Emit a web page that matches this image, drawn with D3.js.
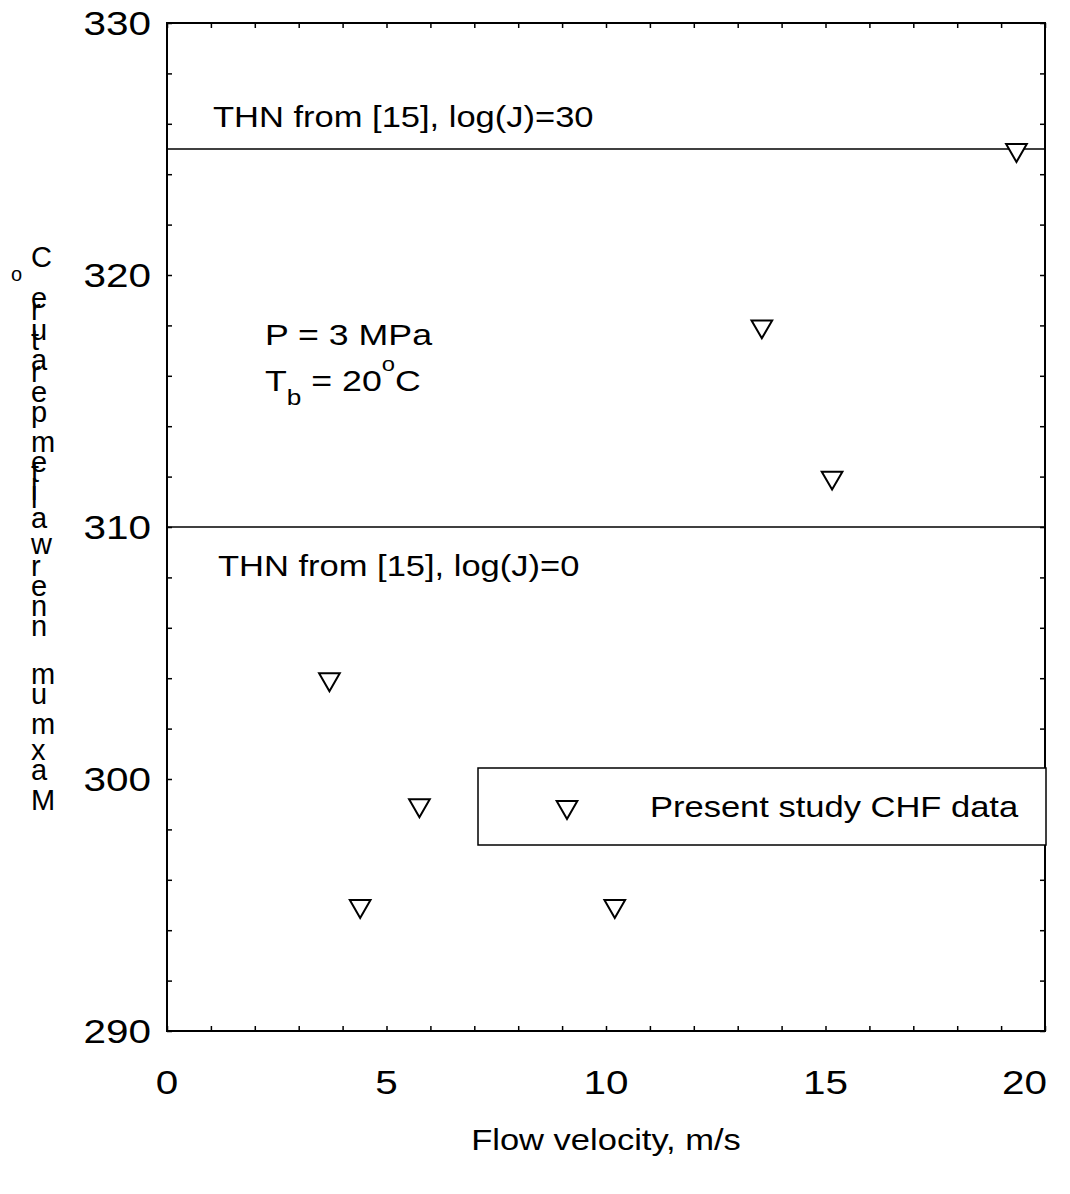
<!DOCTYPE html>
<html>
<head>
<meta charset="utf-8">
<script src="https://cdnjs.cloudflare.com/ajax/libs/d3/7.8.5/d3.min.js"></script>
<style>
  body { margin: 0; background: #fff; }
  svg { display: block; }
  text { font-family: "Liberation Sans", Arial, sans-serif; fill: #000; }
</style>
</head>
<body>
<svg width="1070" height="1194"></svg>
<script>
// data
var velocity = [3.7, 4.4, 5.75, 10.2, 13.55, 15.15, 19.35];
var tmax = [304, 295, 299, 295, 318, 312, 325];

var thnLevels = [325, 310];
var thnLabels = ["THN from [15], log(J)=30", "THN from [15], log(J)=0"];

var xTicks = [0, 5, 10, 15, 20];
var yTicks = [290, 300, 310, 320, 330];
var xMinor = d3.range(0, 21, 1);
var yMinor = d3.range(290, 331, 2);

var svg = d3.select("svg");

var pLeft = 167, pRight = 1045, pTop = 23, pBottom = 1031;
var stretch = 1.19;   // text in the picture is wider than it is tall

var x = d3.scaleLinear().domain([0, 20]).range([pLeft, pRight]);
var y = d3.scaleLinear().domain([290, 330]).range([pBottom, pTop]);

// text helper, stretched sideways like the original
function label(g, px, py, str, size, anchor) {
  return g.append("text")
    .attr("transform", "translate(" + px + "," + py + ") scale(" + stretch + ",1)")
    .attr("text-anchor", anchor || "start")
    .style("font-size", size + "px")
    .text(str);
}

// ticks on all four sides, pointing in
svg.append("g")
  .attr("transform", "translate(0," + pBottom + ")")
  .call(d3.axisBottom(x).tickValues(xMinor).tickSizeInner(-5).tickSizeOuter(0).tickFormat(""));
svg.append("g")
  .attr("transform", "translate(0," + pTop + ")")
  .call(d3.axisTop(x).tickValues(xMinor).tickSizeInner(-5).tickSizeOuter(0).tickFormat(""));
svg.append("g")
  .attr("transform", "translate(" + pLeft + ",0)")
  .call(d3.axisLeft(y).tickValues(yMinor).tickSizeInner(-5).tickSizeOuter(0).tickFormat(""));
svg.append("g")
  .attr("transform", "translate(" + pRight + ",0)")
  .call(d3.axisRight(y).tickValues(yMinor).tickSizeInner(-5).tickSizeOuter(0).tickFormat(""));

svg.selectAll(".domain").remove();
svg.selectAll(".tick line").attr("stroke", "#000").attr("stroke-width", 1.5);

// frame
svg.append("rect")
  .attr("x", pLeft).attr("y", pTop)
  .attr("width", pRight - pLeft).attr("height", pBottom - pTop)
  .attr("fill", "none").attr("stroke", "#000").attr("stroke-width", 2);

// tick labels (last one pushed in so it stays on the page)
xTicks.forEach(function(v, i) {
  if (i == xTicks.length - 1) label(svg, x(v) + 2, pBottom + 63, v, 34, "end");
  else label(svg, x(v), pBottom + 63, v, 34, "middle");
});
yTicks.forEach(function(v) {
  label(svg, 151, y(v) + 12, v, 34, "end");
});

// THN lines
thnLevels.forEach(function(v) {
  svg.append("line")
    .attr("x1", pLeft).attr("x2", pRight)
    .attr("y1", y(v)).attr("y2", y(v))
    .attr("stroke", "#000").attr("stroke-width", 1.5);
});
label(svg, 213, y(thnLevels[0]) - 22, thnLabels[0], 29);
label(svg, 218, y(thnLevels[1]) + 49, thnLabels[1], 29);

// conditions
label(svg, 265, 345, "P = 3 MPa", 30);
var tb = label(svg, 265, 391, "", 30);
tb.append("tspan").text("T");
tb.append("tspan").attr("dy", 14).style("font-size", "22px").text("b");
tb.append("tspan").attr("dy", -14).text(" = 20");
tb.append("tspan").attr("dy", -20).style("font-size", "20px").text("o");
tb.append("tspan").attr("dy", 20).text("C");

// data triangles
var tri = d3.symbol().type(d3.symbolTriangle).size(185);
function marker(px, py) {
  svg.append("path")
    .attr("d", tri())
    .attr("transform", "translate(" + px + "," + (py + 1) + ") rotate(180)")
    .attr("fill", "#fff").attr("stroke", "#000").attr("stroke-width", 2);
}
velocity.forEach(function(v, i) {
  marker(x(v), y(tmax[i]));
});

// legend
svg.append("rect")
  .attr("x", 478).attr("y", 768).attr("width", 568).attr("height", 77)
  .attr("fill", "#fff").attr("stroke", "#000").attr("stroke-width", 1.5);
marker(567, 806);
label(svg, 650, 817, "Present study CHF data", 29);

// x axis title
label(svg, 606, 1150, "Flow velocity, m/s", 29, "middle");

// y axis title: upright glyphs stacked bottom to top, as in the picture
var yTitle = "Maximum inner wall temperature ";
var probe = svg.append("text").attr("x", -999).attr("y", -999);
function advance(ch, size) {
  probe.style("font-size", size + "px").text("M" + ch + "M");
  var w = probe.node().getComputedTextLength();
  probe.text("MM");
  return w - probe.node().getComputedTextLength();
}
var pos = 810;
yTitle.split("").forEach(function(ch) {
  if (ch !== " " && ch !== "i") {
    svg.append("text").attr("x", 31).attr("y", pos)
      .style("font-size", "29px").text(ch);
  }
  pos -= advance(ch, 36);
});
svg.append("text").attr("x", 11).attr("y", pos + 3).style("font-size", "20px").text("o");
pos -= advance("o", 20);
svg.append("text").attr("x", 31).attr("y", pos).style("font-size", "29px").text("C");
probe.remove();
</script>
</body>
</html>
